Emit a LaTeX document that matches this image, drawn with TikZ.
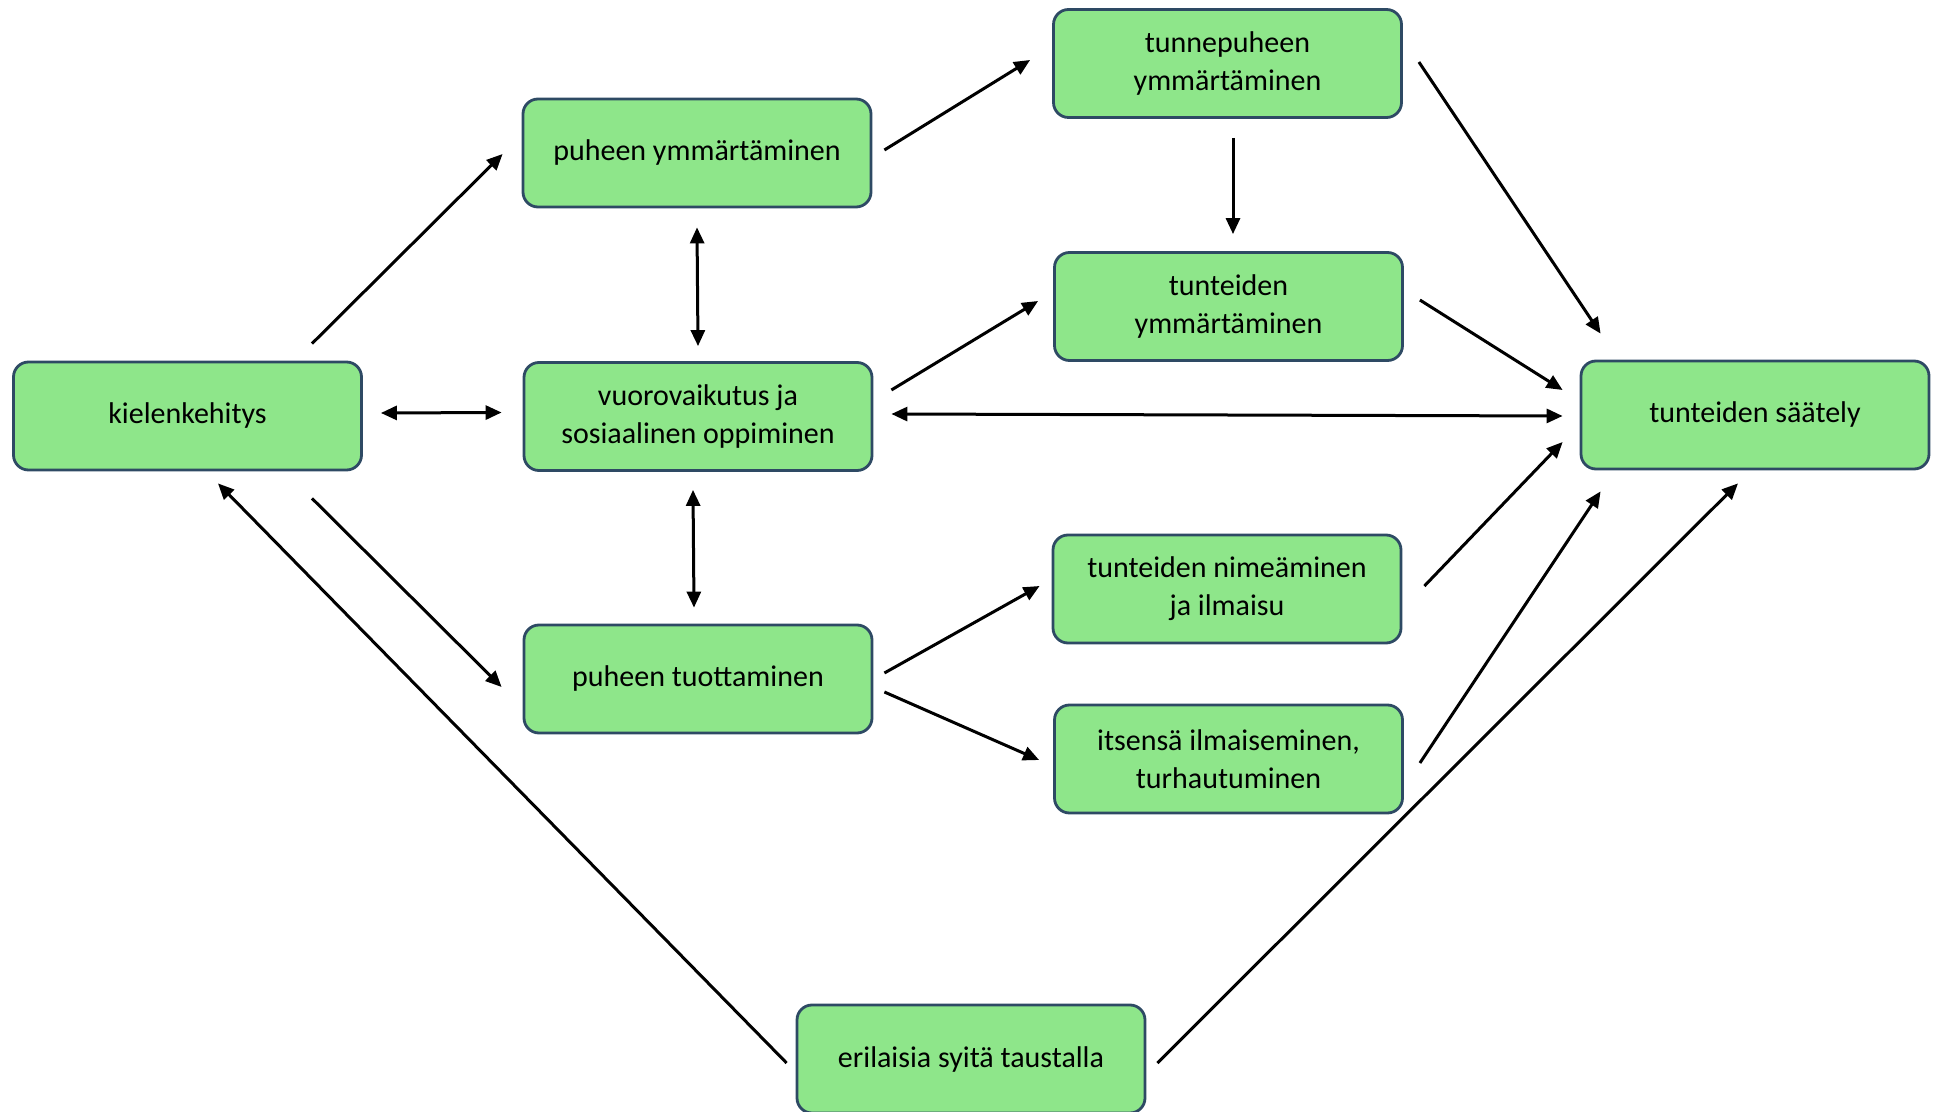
\documentclass[tikz,border=0pt]{standalone}
\usepackage{fontspec}
\setmainfont{Carlito}
\usepackage{xcolor,tikz}
\usetikzlibrary{arrows.meta}
\definecolor{boxfill}{RGB}{142,230,138}
\definecolor{boxline}{RGB}{46,74,100}
\tikzset{box/.style={draw=boxline,line width=1.4pt,rounded corners=7.5pt,fill=boxfill,align=center,
 minimum width=174pt,minimum height=54pt,inner sep=3pt,font=\fontsize{15}{19}\selectfont},
 arr/.style={-{Triangle[length=8pt,width=7pt]},line width=1.5pt,draw=black},
 both/.style={arr,{Triangle[length=8pt,width=7pt]}-{Triangle[length=8pt,width=7pt]}}}

\begin{document}
\begin{tikzpicture}[x=0.5pt,y=-0.5pt]
\useasboundingbox (0,0) rectangle (1934,1112);
\node[box] (kiel) at (187.5,416) {kielenkehitys};
\node[box] (puy) at (697,153) {puheen ymmärtäminen};
\node[box] (vuo) at (698,416.5) {vuorovaikutus ja\\sosiaalinen oppiminen};
\node[box] (put) at (698,679) {puheen tuottaminen};
\node[box] (tpy) at (1227.5,63.5) {tunnepuheen\\ymmärtäminen};
\node[box] (tym) at (1228.5,306.5) {tunteiden\\ymmärtäminen};
\node[box] (tni) at (1227,589) {tunteiden nimeäminen\\ja ilmaisu};
\node[box] (its) at (1228.5,759) {itsensä ilmaiseminen,\\turhautuminen};
\node[box] (saa) at (1755,415) {tunteiden säätely};
\node[box] (eri) at (971,1059) {erilaisia syitä taustalla};
\draw[arr] ([shift={(124.5,-17)}]kiel.north)--([shift={(-19,1)}]puy.west);
\draw[both] ([shift={(18,-3)}]kiel.east)--([shift={(-21,-4)}]vuo.west);
\draw[arr] ([shift={(124.5,27)}]kiel.south)--([shift={(-21,8)}]put.west);
\draw[arr] ([shift={(-9,4)}]eri.west)--([shift={(30.5,12)}]kiel.south);
\draw[arr] ([shift={(11,4)}]eri.east)--([shift={(-17,13)}]saa.south);
\draw[both] ([shift={(0,19)}]puy.south)--([shift={(0,-15)}]vuo.north);
\draw[both] ([shift={(-5,18)}]vuo.south)--([shift={(-4,-16)}]put.north);
\draw[arr] ([shift={(12,-3)}]puy.east)--([shift={(-22,-3.5)}]tpy.west);
\draw[arr] ([shift={(5.5,19)}]tpy.south)--([shift={(4.5,-17)}]tym.north);
\draw[arr] ([shift={(16,-1.5)}]tpy.east)--([shift={(21,-26)}]saa.north west);
\draw[arr] ([shift={(18,-26.5)}]vuo.east)--([shift={(-15,-5.5)}]tym.west);
\draw[both] ([shift={(18,-2.5)}]vuo.east)--([shift={(-17,1)}]saa.west);
\draw[arr] ([shift={(16,-6.5)}]tym.east)--([shift={(-17,-25)}]saa.west);
\draw[arr] ([shift={(11,-6)}]put.east)--([shift={(-12,-3)}]tni.west);
\draw[arr] ([shift={(11,13)}]put.east)--([shift={(-14,1)}]its.west);
\draw[arr] ([shift={(22,-3)}]tni.east)--([shift={(-17,27)}]saa.west);
\draw[arr] ([shift={(16,4)}]its.east)--([shift={(21,21)}]saa.south west);
\end{tikzpicture}
\end{document}
